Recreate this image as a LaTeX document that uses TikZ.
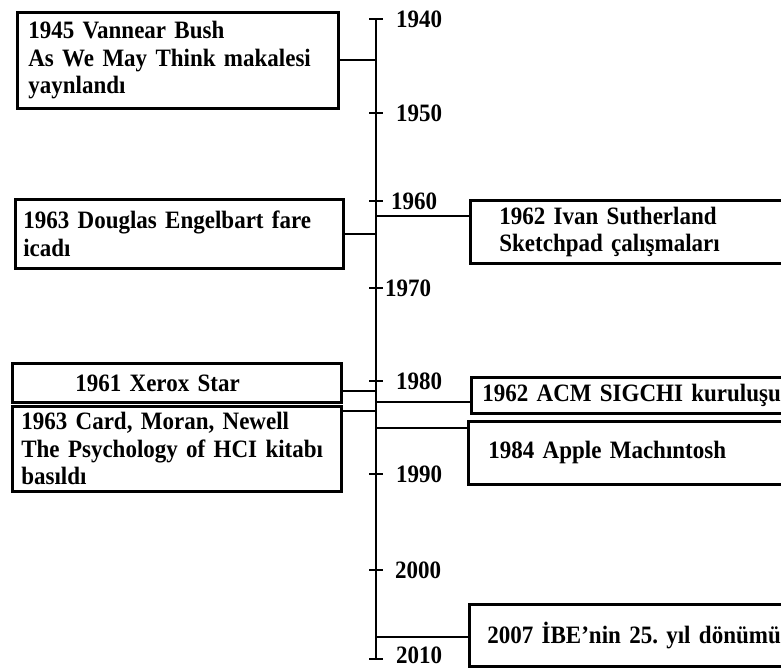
\documentclass[tikz,border=0pt]{standalone}
\usepackage{fontspec}
\newfontfamily\boxfont{Liberation Serif Bold}[FakeStretch=0.92]
\frenchspacing
\usetikzlibrary{calc,positioning}
\tikzset{
  wire/.style={line width=1.9pt},
  box/.style={draw, line width=2.7pt, anchor=north west, align=left, inner ysep=0pt,
    font=\boxfont\fontsize{25}{27.5}\selectfont},
  yearlbl/.style={anchor=west, inner sep=0pt, font=\boxfont\fontsize{25}{28}\selectfont},
}
\begin{document}
\begin{tikzpicture}[x=1pt,y=-1pt]
  \useasboundingbox (0,0) rectangle (781,670);
  \clip (0,0) rectangle (781,670);
  % time axis
  \coordinate (top) at (376,19);
  \coordinate (bot) at (376,659);
  \draw[wire] (top) -- (bot);
  \foreach \yr/\ty/\lx/\ly in {1940/19/396/19,1950/113/396/113,1960/201/391/201,
                              1970/288/385/288,1980/381/396/381,1990/474/396/474,
                              2000/570/395/570,2010/659/396/655}{
    \draw[wire] (369,\ty) -- (383,\ty);
    \node[yearlbl] (y\yr) at (\lx,\ly) {\yr};
  }
  % left boxes
  \node[box, minimum height=96pt, inner xsep=11pt, text width=299pt] (bush) at (16,11)
    {1945 Vannear Bush\\As We May Think makalesi\\yaynlandı};
  \node[box, minimum height=69pt, inner xsep=8pt, text width=312pt] (engel) at (14,198)
    {1963 Douglas Engelbart fare\\icadı};
  \node[box, minimum height=39pt, inner xsep=63pt, text width=203pt] (xerox) at (11,362)
    {1961 Xerox Star};
  \node[box, minimum height=85pt, inner xsep=9pt, text width=311pt] (card) at (11,405)
    {1963 Card, Moran, Newell\\The Psychology of HCI kitabı\\basıldı};
  % right boxes
  \node[box, minimum height=63pt, inner xsep=29pt, text width=283pt] (suth) at (469,199)
    {1962 Ivan Sutherland\\Sketchpad çalışmaları};
  \node[box, minimum height=36pt, inner xsep=11pt, text width=318pt] (acm) at (470,376)
    {1962 ACM SIGCHI kuruluşu};
  \node[box, minimum height=63pt, inner xsep=20pt, text width=303pt] (apple) at (467,420)
    {1984 Apple Machıntosh};
  \node[box, minimum height=62pt, inner xsep=18pt, text width=306pt] (ibe) at (468,603)
    {2007 İBE’nin 25. yıl dönümü};
  % links to the axis
  \coordinate (suthjoin) at (376,216);
  \coordinate (xjoin) at (376,391);
  \coordinate (cjoin) at (376,411);
  \coordinate (acmjoin) at (376,402);
  \coordinate (applejoin) at (376,428);
  \coordinate (ibejoin) at (376,637);
  \draw[wire] (bush.east) -- (bush.east -| top);
  \draw[wire] (engel.east) -- (engel.east -| top);
  \draw[wire] (xjoin -| xerox.east) -- (xjoin);
  \draw[wire] (cjoin -| card.east) -- (cjoin);
  \draw[wire] (suthjoin) -- (suthjoin -| suth.west);
  \draw[wire] (acmjoin) -- (acmjoin -| acm.west);
  \draw[wire] (applejoin) -- (applejoin -| apple.west);
  \draw[wire] (ibejoin) -- (ibejoin -| ibe.west);
\end{tikzpicture}
\end{document}
